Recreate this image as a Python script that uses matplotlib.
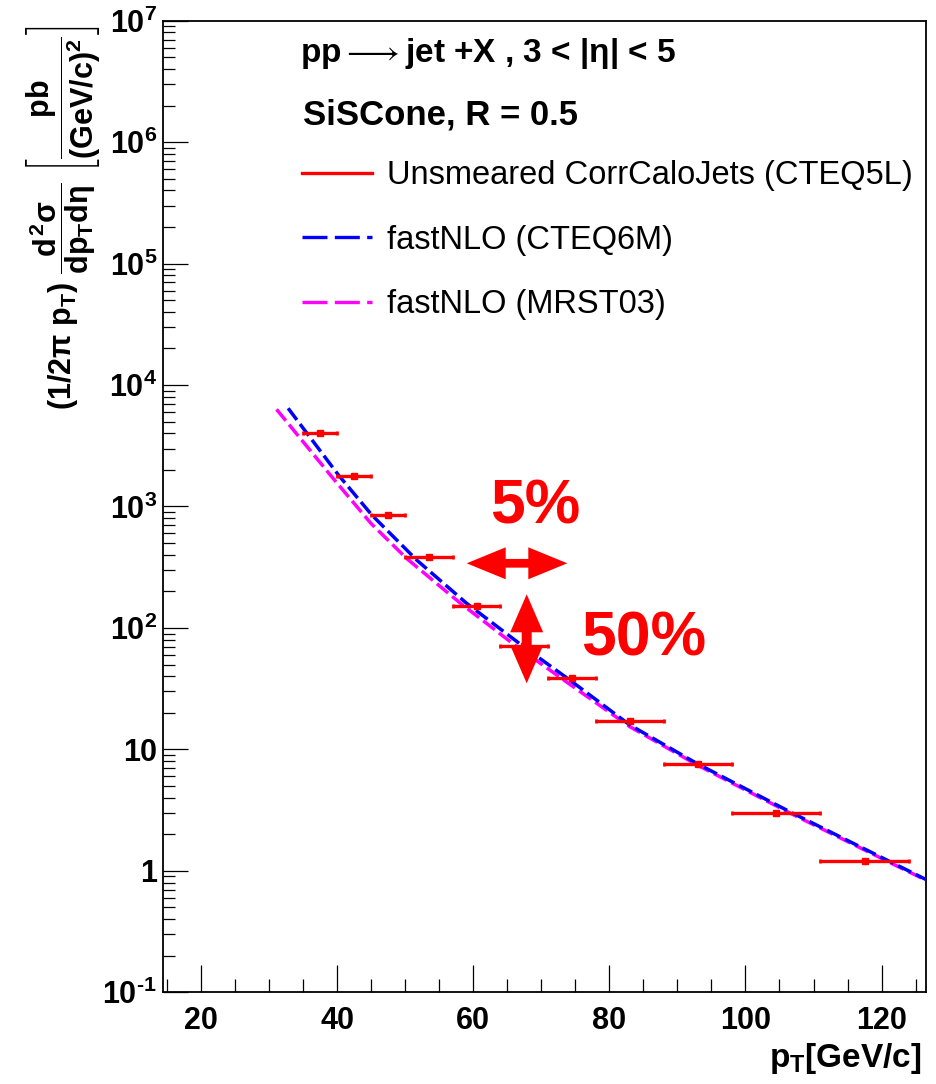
import numpy as np
import matplotlib
matplotlib.use("Agg")
import matplotlib.pyplot as plt
from matplotlib.lines import Line2D
from matplotlib.patches import Polygon
from matplotlib.ticker import FixedLocator, FixedFormatter, MultipleLocator, LogLocator, NullFormatter

plt.rcParams['font.family'] = ['Liberation Sans', 'DejaVu Sans']
plt.rcParams['mathtext.fontset'] = 'custom'
plt.rcParams['mathtext.rm'] = 'Liberation Sans:bold'
plt.rcParams['mathtext.it'] = 'Liberation Sans:bold'
plt.rcParams['mathtext.bf'] = 'Liberation Sans:bold'
plt.rcParams['mathtext.sf'] = 'Liberation Sans:bold'

# ---- measured spectrum (bin edges in GeV/c, cross section in pb/(GeV/c)^2) ----
bin_edges = [35, 40, 45, 50, 57, 64, 71, 78, 88, 98, 111, 124]
xsec_calojets = [4030, 1790, 855, 384, 152, 71, 38.5, 17.2, 7.63, 3.01, 1.21]

# ---- NLO predictions ----
pt_cteq6m = [32.8, 40.2, 45.1, 51.7, 59.0, 67.4, 74.2, 83.0, 92.8, 106.5, 122.2, 126.5]
xsec_cteq6m = [6440, 1815, 851, 362, 160, 70.1, 37.2, 15.9, 7.69, 3.07, 1.12, 0.85]

pt_mrst03 = [31.1, 39.4, 45.0, 50.2, 58.1, 66.0, 74.7, 83.0, 92.8, 106.5, 122.2, 126.5]
xsec_mrst03 = [6310, 1706, 723, 374, 160, 73.0, 32.8, 15.4, 7.5, 3.0, 1.10, 0.84]

y_ticks = [0.1, 1, 10, 100, 1e3, 1e4, 1e5, 1e6, 1e7]
y_ticklabels = [r'$\mathbf{10^{\text{-1}}}$', '1', '10', r'$\mathbf{10^{2}}$', r'$\mathbf{10^{3}}$',
                r'$\mathbf{10^{4}}$', r'$\mathbf{10^{5}}$', r'$\mathbf{10^{6}}$', r'$\mathbf{10^{7}}$']

W, H = 936, 1084
fig = plt.figure(figsize=(W / 100, H / 100), dpi=100)


def fx(px):
    return px / W


def fy(py):
    return 1 - py / H


ax = fig.add_axes([fx(162.7), fy(992.3), fx(925.8) - fx(162.7), fy(20.7) - fy(992.3)])
ax.set_yscale('log')
ax.set_xlim(14.37, 126.5)
ax.set_ylim(0.1, 1e7)

red, blue, magenta = '#ff0000', '#0000ff', '#ff00ff'

# theory curves
ax.plot(pt_mrst03, xsec_mrst03, color=magenta, lw=2.5, dashes=(4.2, 1.5), zorder=3)
ax.plot(pt_cteq6m, xsec_cteq6m, color=blue, lw=2.5, dashes=(4.2, 1.5), zorder=4)

# data points with bin-width horizontal bars
edges = np.array(bin_edges, dtype=float)
centers = 0.5 * (edges[:-1] + edges[1:])
half = 0.5 * np.diff(edges)
ax.errorbar(centers, xsec_calojets, xerr=half, fmt='s', ms=3.8, color=red, ecolor=red,
            elinewidth=2.4, capsize=1.2, capthick=2, zorder=5)

# axes styling
for s in ax.spines.values():
    s.set_linewidth(1.3)
ax.yaxis.set_major_locator(FixedLocator(y_ticks))
ax.yaxis.set_major_formatter(FixedFormatter(y_ticklabels))
ax.yaxis.set_minor_locator(LogLocator(base=10, subs=np.arange(2, 10), numticks=20))
ax.yaxis.set_minor_formatter(NullFormatter())
ax.xaxis.set_major_locator(MultipleLocator(20))
ax.xaxis.set_minor_locator(MultipleLocator(5))
ax.tick_params(axis='y', which='major', direction='in', length=18, width=0.9, labelsize=22, pad=4)
ax.tick_params(axis='y', which='minor', direction='in', length=8.6, width=0.9)
ax.tick_params(axis='x', which='major', direction='in', length=19.4, width=0.9, labelsize=22, pad=10)
ax.tick_params(axis='x', which='minor', direction='in', length=9.4, width=0.9)
for lab in ax.get_xticklabels() + ax.get_yticklabels():
    lab.set_fontweight('bold')

# axis titles
fig.text(fx(921.7), fy(1066.7), r'$p_{T}$[GeV/c]', ha='right', va='baseline', fontsize=24,
         fontweight='bold')
fig.text(fx(63), fy(218),
         r'$(1/2\pi\ p_{T})\ \dfrac{d^{2}\sigma}{dp_{T}d\eta}\ \left[\dfrac{pb}{(GeV/c)^{2}}\right]$',
         rotation=90, ha='center', va='center', fontsize=22)

# process / algorithm description
fig.text(fx(300), fy(62.3), r'pp$\longrightarrow$jet +X , 3 < |$\eta$| < 5', ha='left', va='baseline',
         fontsize=24, fontweight='bold')
fig.text(fx(303.3), fy(125), 'SiSCone, R = 0.5', ha='left', va='baseline',
         fontsize=25, fontweight='bold')

# legend
handles = [Line2D([], [], color=red, lw=2.4),
           Line2D([], [], color=blue, lw=2.4, dashes=(7.5, 2.2)),
           Line2D([], [], color=magenta, lw=2.4, dashes=(7.5, 2.2))]
labels = ['Unsmeared CorrCaloJets (CTEQ5L)', 'fastNLO (CTEQ6M)', 'fastNLO (MRST03)']
fig.legend(handles, labels, loc='upper left', bbox_to_anchor=(fx(302), fy(160)),
           frameon=False, fontsize=23.5, handlelength=2.15, handletextpad=0.45,
           labelspacing=1.03, borderaxespad=0, borderpad=0)

# resolution-effect annotations
def double_arrow(x0, y0, x1, y1, shaft, hl, hw):
    p0 = np.array([x0, y0], float)
    p1 = np.array([x1, y1], float)
    d = (p1 - p0) / np.linalg.norm(p1 - p0)
    n = np.array([-d[1], d[0]])
    a = p0 + d * hl
    b = p1 - d * hl
    pts = [p0, a + n * hw / 2, a + n * shaft / 2, b + n * shaft / 2, b + n * hw / 2, p1,
           b - n * hw / 2, b - n * shaft / 2, a - n * shaft / 2, a - n * hw / 2]
    pts = [(fx(p[0]), fy(p[1])) for p in pts]
    fig.add_artist(Polygon(pts, closed=True, facecolor=red, edgecolor='none',
                           transform=fig.transFigure, zorder=6))


double_arrow(466.7, 563.3, 567.3, 563.3, 8.7, 39, 32)
double_arrow(526.7, 594.3, 526.7, 683.3, 10, 38, 33)
fig.text(fx(490), fy(523.3), '5%', color=red, fontsize=45, fontweight='bold',
         ha='left', va='baseline')
fig.text(fx(580.7), fy(655), '50%', color=red, fontsize=45, fontweight='bold',
         ha='left', va='baseline')

fig.savefig('out.png', dpi=100, facecolor='white')
